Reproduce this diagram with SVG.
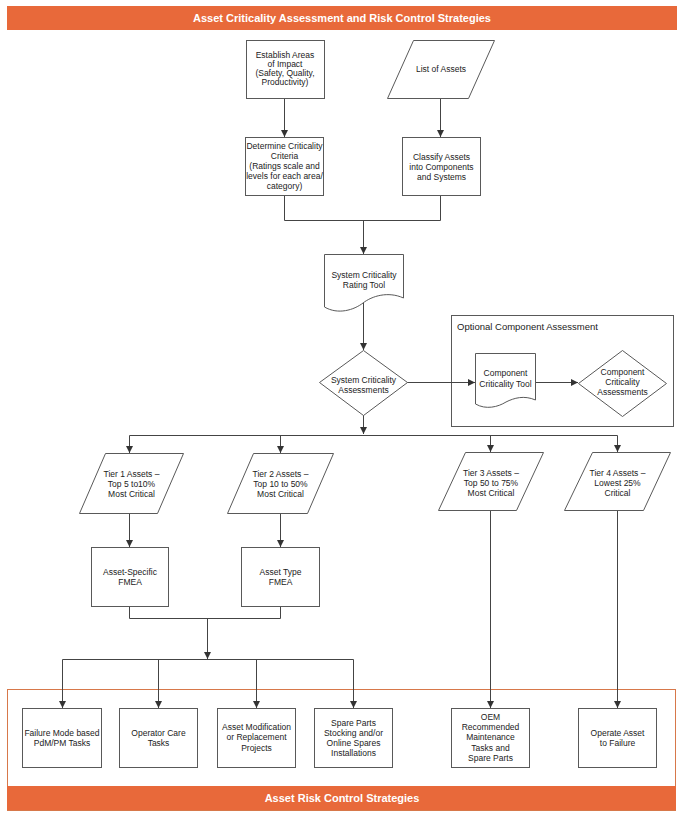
<svg xmlns="http://www.w3.org/2000/svg" width="683" height="819" viewBox="0 0 683 819">
<defs>
<marker id="ah" markerWidth="8" markerHeight="8" refX="7" refY="4" orient="auto" markerUnits="userSpaceOnUse">
<path d="M0,0.5 L7,4 L0,7.5 Z" fill="#333"/>
</marker>
<style>
.bx{fill:#fff;stroke:#595959;stroke-width:1}
.t{font-family:"Liberation Sans",Arial,sans-serif;font-size:8.5px;fill:#222;text-anchor:middle}
.hd{font-family:"Liberation Sans",Arial,sans-serif;font-size:11px;font-weight:bold;fill:#fff;text-anchor:middle}
.c{fill:none;stroke:#444;stroke-width:1}
.a{fill:none;stroke:#444;stroke-width:1;marker-end:url(#ah)}
</style>
</defs>
<rect width="683" height="819" fill="#fff"/>

<g id="header">
<rect x="7" y="6" width="670" height="24" fill="#E8693A"/>
<text class="hd" x="342" y="22">Asset Criticality Assessment and Risk Control Strategies</text>
</g>

<g id="footer">
<rect x="7.5" y="689.5" width="668" height="121" fill="none" stroke="#D7784A" stroke-width="1"/>
<rect x="7" y="786" width="669" height="24" fill="#E8693A"/>
<text class="hd" x="342" y="802">Asset Risk Control Strategies</text>
</g>

<g id="optional-group">
<rect x="451.5" y="315.5" width="222" height="111" fill="none" stroke="#595959"/>
<text x="457" y="330" style="font-family:'Liberation Sans',Arial,sans-serif;font-size:9.5px;fill:#222">Optional Component Assessment</text>
</g>

<g id="connectors">
<path class="a" d="M284.5,98 V137"/>
<path class="a" d="M440.5,98 V137"/>
<path class="c" d="M284.5,195 V220.5 H440.5 V195"/>
<path class="a" d="M363.5,220.5 V254"/>
<path class="a" d="M363.5,303 V350"/>
<path class="a" d="M407,382.5 H475"/>
<path class="a" d="M535,382.5 H578"/>
<path class="a" d="M363.5,415 V434"/>
<path class="c" d="M129.5,435.5 H617.5"/>
<path class="a" d="M129.5,435.5 V453"/>
<path class="a" d="M280.5,435.5 V453"/>
<path class="a" d="M490.5,435.5 V452"/>
<path class="a" d="M617.5,435.5 V452"/>
<path class="a" d="M129.5,513 V547"/>
<path class="a" d="M280.5,513 V547"/>
<path class="c" d="M129.5,606 V618.5 H280.5 V606"/>
<path class="a" d="M207.5,618.5 V659"/>
<path class="c" d="M62.5,659.5 H353.5"/>
<path class="a" d="M62.5,659.5 V708"/>
<path class="a" d="M158.5,659.5 V708"/>
<path class="a" d="M256.5,659.5 V708"/>
<path class="a" d="M353.5,659.5 V708"/>
<path class="a" d="M490.5,510 V708"/>
<path class="a" d="M617.5,510 V708"/>
</g>

<g id="establish">
<rect class="bx" x="246.5" y="40.5" width="78" height="58"/>
<text class="t" x="285" y="58">Establish Areas</text>
<text class="t" x="285" y="67">of Impact</text>
<text class="t" x="285" y="76">(Safety, Quality,</text>
<text class="t" x="285" y="85">Productivity)</text>
</g>

<g id="list-assets">
<polygon class="bx" points="413.5,40.5 494.5,40.5 468.5,98.5 387.5,98.5"/>
<text class="t" x="441" y="72">List of Assets</text>
</g>

<g id="determine">
<rect class="bx" x="245.5" y="137.5" width="78" height="58"/>
<text class="t" x="284.5" y="149">Determine Criticality</text>
<text class="t" x="284.5" y="159">Criteria</text>
<text class="t" x="284.5" y="169">(Ratings scale and</text>
<text class="t" x="284.5" y="179">levels for each area/</text>
<text class="t" x="284.5" y="189">category)</text>
</g>

<g id="classify">
<rect class="bx" x="402.5" y="137.5" width="78" height="58"/>
<text class="t" x="441.5" y="160">Classify Assets</text>
<text class="t" x="441.5" y="170">into Components</text>
<text class="t" x="441.5" y="180">and Systems</text>
</g>

<g id="rating-tool">
<path class="bx" d="M324.5,254.5 H403.5 V298 C388,291 372,296 363,303 C354,310 338,315 324.5,307 Z"/>
<text class="t" x="364" y="278">System Criticality</text>
<text class="t" x="364" y="288">Rating Tool</text>
</g>

<g id="system-assessments">
<polygon class="bx" points="363.5,350.5 407.5,382.5 363.5,415.5 319.5,382.5"/>
<text class="t" x="363.5" y="383">System Criticality</text>
<text class="t" x="363.5" y="393">Assessments</text>
</g>

<g id="component-tool">
<path class="bx" d="M475.5,353.5 H535.5 V400 C524,395 514,398 506,402 C498,407 486,410 475.5,404 Z"/>
<text class="t" x="505.5" y="376">Component</text>
<text class="t" x="505.5" y="387">Criticality Tool</text>
</g>

<g id="component-assessments">
<polygon class="bx" points="622.5,350.5 666.5,383.5 622.5,416.5 578.5,383.5"/>
<text class="t" x="622.5" y="375">Component</text>
<text class="t" x="622.5" y="385">Criticality</text>
<text class="t" x="622.5" y="395">Assessments</text>
</g>

<g id="tier1">
<polygon class="bx" points="105.5,453.5 183.5,453.5 157.5,513.5 79.5,513.5"/>
<text class="t" x="131.5" y="477">Tier 1 Assets –</text>
<text class="t" x="131.5" y="487">Top 5 to10%</text>
<text class="t" x="131.5" y="497">Most Critical</text>
</g>

<g id="tier2">
<polygon class="bx" points="253.5,453.5 333.5,453.5 307.5,513.5 227.5,513.5"/>
<text class="t" x="280.5" y="477">Tier 2 Assets –</text>
<text class="t" x="280.5" y="487">Top 10 to 50%</text>
<text class="t" x="280.5" y="497">Most Critical</text>
</g>

<g id="tier3">
<polygon class="bx" points="465.5,452.5 543.5,452.5 516.5,510.5 438.5,510.5"/>
<text class="t" x="491" y="476">Tier 3 Assets –</text>
<text class="t" x="491" y="486">Top 50 to 75%</text>
<text class="t" x="491" y="496">Most Critical</text>
</g>

<g id="tier4">
<polygon class="bx" points="592.5,452.5 670.5,452.5 643.5,510.5 564.5,510.5"/>
<text class="t" x="617.5" y="476">Tier 4 Assets –</text>
<text class="t" x="617.5" y="486">Lowest 25%</text>
<text class="t" x="617.5" y="496">Critical</text>
</g>

<g id="asset-specific-fmea">
<rect class="bx" x="91.5" y="547.5" width="77" height="59"/>
<text class="t" x="130" y="575">Asset-Specific</text>
<text class="t" x="130" y="585">FMEA</text>
</g>

<g id="asset-type-fmea">
<rect class="bx" x="241.5" y="547.5" width="78" height="59"/>
<text class="t" x="280.5" y="575">Asset Type</text>
<text class="t" x="280.5" y="585">FMEA</text>
</g>

<g id="failure-mode">
<rect class="bx" x="22.5" y="708.5" width="79" height="59"/>
<text class="t" x="62" y="736">Failure Mode based</text>
<text class="t" x="62" y="746">PdM/PM Tasks</text>
</g>

<g id="operator-care">
<rect class="bx" x="119.5" y="708.5" width="78" height="59"/>
<text class="t" x="158.5" y="736">Operator Care</text>
<text class="t" x="158.5" y="746">Tasks</text>
</g>

<g id="asset-modification">
<rect class="bx" x="217.5" y="708.5" width="78" height="59"/>
<text class="t" x="256.5" y="730">Asset Modification</text>
<text class="t" x="256.5" y="740">or Replacement</text>
<text class="t" x="256.5" y="751">Projects</text>
</g>

<g id="spare-parts">
<rect class="bx" x="314.5" y="708.5" width="78" height="59"/>
<text class="t" x="353.5" y="726">Spare Parts</text>
<text class="t" x="353.5" y="736">Stocking and/or</text>
<text class="t" x="353.5" y="746">Online Spares</text>
<text class="t" x="353.5" y="756">Installations</text>
</g>

<g id="oem">
<rect class="bx" x="451.5" y="708.5" width="78" height="59"/>
<text class="t" x="490.5" y="720">OEM</text>
<text class="t" x="490.5" y="730">Recommended</text>
<text class="t" x="490.5" y="740">Maintenance</text>
<text class="t" x="490.5" y="751">Tasks and</text>
<text class="t" x="490.5" y="761">Spare Parts</text>
</g>

<g id="operate-to-failure">
<rect class="bx" x="578.5" y="708.5" width="78" height="59"/>
<text class="t" x="617.5" y="736">Operate Asset</text>
<text class="t" x="617.5" y="746">to Failure</text>
</g>
</svg>
